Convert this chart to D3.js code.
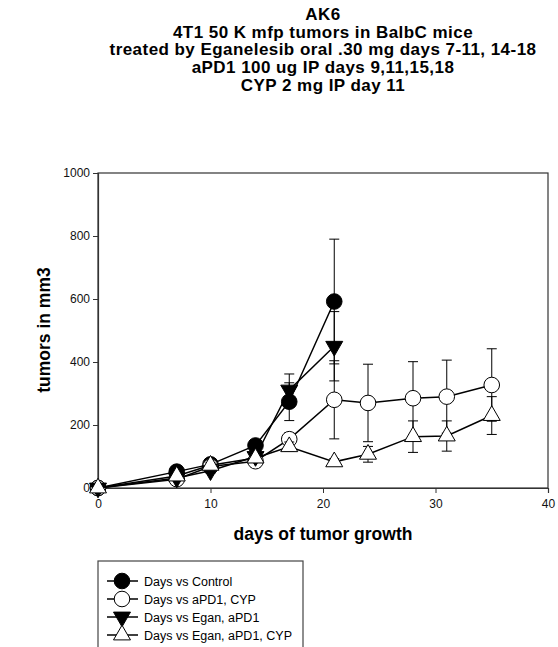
<!doctype html>
<html>
<head>
<meta charset="utf-8">
<script src="https://d3js.org/d3.v7.min.js"></script>
<style>
  body { margin: 0; background: #fff; }
  svg { display: block; font-family: "Liberation Sans", Arial, sans-serif; }
</style>
</head>
<body>
<svg width="558" height="647"></svg>
<script>
// tumour volume (mm3) by day, mean and error
var daysShort = [0, 7, 10, 14, 17, 21];
var daysLong = [0, 7, 10, 14, 17, 21, 24, 28, 31, 35];

var controlMean = [0, 52, 75, 135, 274, 592];
var controlErr = [0, 8, 10, 15, 60, 198];

var pd1CypMean = [0, 28, 68, 85, 155, 280, 270, 285, 290, 327];
var pd1CypErr = [0, 5, 8, 10, 20, 124, 123, 116, 116, 115];

var eganPd1Mean = [0, 32, 55, 100, 311, 450];
var eganPd1Err = [0, 5, 8, 10, 51, 110];

var eganPd1CypMean = [0, 38, 72, 95, 131, 83, 107, 163, 165, 230];
var eganPd1CypErr = [0, 5, 8, 10, 15, 10, 25, 50, 48, 60];

var xTicks = [0, 10, 20, 30, 40];
var yTicks = [0, 200, 400, 600, 800, 1000];

var titleLines = [
  "AK6",
  "4T1 50 K mfp tumors in BalbC mice",
  "treated by Eganelesib oral .30 mg days 7-11, 14-18",
  "aPD1 100 ug IP days 9,11,15,18",
  "CYP 2 mg IP day 11"
];

function pairUp(days, mean, err) {
  return days.map(function(d, i) { return {day: d, v: mean[i], e: err[i]}; });
}

var series = [
  {name: "Days vs Control", shape: "circle", fill: "#000", data: pairUp(daysShort, controlMean, controlErr)},
  {name: "Days vs aPD1, CYP", shape: "circle", fill: "#fff", data: pairUp(daysLong, pd1CypMean, pd1CypErr)},
  {name: "Days vs Egan, aPD1", shape: "down", fill: "#000", data: pairUp(daysShort, eganPd1Mean, eganPd1Err)},
  {name: "Days vs Egan, aPD1, CYP", shape: "up", fill: "#fff", data: pairUp(daysLong, eganPd1CypMean, eganPd1CypErr)}
];

var svg = d3.select("svg");
var plotL = 98, plotR = 548, plotT = 173, plotB = 488;

var x = d3.scaleLinear().domain([0, 40]).range([plotL, plotR]);
var y = d3.scaleLinear().domain([0, 1000]).range([plotB, plotT]);

// title
svg.append("g").selectAll("text")
  .data(titleLines).enter().append("text")
  .attr("x", 323)
  .attr("y", function(d, i) { return 20 + i * 17.7; })
  .attr("text-anchor", "middle")
  .attr("font-size", 17)
  .attr("letter-spacing", 0.45)
  .attr("font-weight", "bold")
  .text(function(d) { return d; });

// frame
svg.append("rect")
  .attr("x", plotL).attr("y", plotT)
  .attr("width", plotR - plotL).attr("height", plotB - plotT)
  .attr("fill", "none").attr("stroke", "#333").attr("stroke-width", 1.2);

var xAxis = svg.append("g")
  .attr("transform", "translate(0," + plotB + ")")
  .call(d3.axisBottom(x).tickValues(xTicks).tickSize(5).tickPadding(6));
var yAxis = svg.append("g")
  .attr("transform", "translate(" + plotL + ",0)")
  .call(d3.axisLeft(y).tickValues(yTicks).tickFormat(d3.format("d")).tickSize(5).tickPadding(3));

[xAxis, yAxis].forEach(function(a) {
  a.select(".domain").attr("stroke", "#333").attr("stroke-width", 1.2);
  a.selectAll(".tick line").attr("stroke", "#333");
  a.selectAll("text").attr("font-size", 12).attr("fill", "#111")
    .attr("font-family", "Liberation Sans, Arial, sans-serif");
});

svg.append("text")
  .attr("x", 323).attr("y", 540)
  .attr("text-anchor", "middle")
  .attr("font-size", 17.5).attr("font-weight", "bold")
  .text("days of tumor growth");

svg.append("text")
  .attr("transform", "translate(50,330) rotate(-90)")
  .attr("text-anchor", "middle")
  .attr("font-size", 17.5).attr("font-weight", "bold")
  .text("tumors in mm3");

function marker(sel, shape, fill) {
  if (shape === "circle") {
    sel.append("circle").attr("r", 7.8);
  } else {
    sel.append("path")
      .attr("d", d3.symbol().type(d3.symbolTriangle).size(125)())
      .attr("transform", shape === "down" ? "rotate(180)" : null);
  }
  sel.selectAll("circle, path")
    .attr("fill", fill).attr("stroke", "#000").attr("stroke-width", 1);
}

var line = d3.line()
  .x(function(d) { return x(d.day); })
  .y(function(d) { return y(d.v); });

series.forEach(function(s) {
  var g = svg.append("g");

  var eb = g.selectAll(".err").data(s.data.filter(function(d) { return d.e > 0; }))
    .enter().append("g").attr("stroke", "#000").attr("stroke-width", 1);
  eb.append("line")
    .attr("x1", function(d) { return x(d.day); })
    .attr("x2", function(d) { return x(d.day); })
    .attr("y1", function(d) { return y(d.v - d.e); })
    .attr("y2", function(d) { return y(d.v + d.e); });
  [-1, 1].forEach(function(sign) {
    eb.append("line")
      .attr("x1", function(d) { return x(d.day) - 5; })
      .attr("x2", function(d) { return x(d.day) + 5; })
      .attr("y1", function(d) { return y(d.v + sign * d.e); })
      .attr("y2", function(d) { return y(d.v + sign * d.e); });
  });

  g.append("path").datum(s.data)
    .attr("d", line)
    .attr("fill", "none").attr("stroke", "#000").attr("stroke-width", 1.5);

  g.selectAll(".pt").data(s.data).enter().append("g")
    .attr("transform", function(d) { return "translate(" + x(d.day) + "," + y(d.v) + ")"; })
    .each(function() { marker(d3.select(this), s.shape, s.fill); });
});

// legend
var lg = svg.append("g");
lg.append("rect")
  .attr("x", 98).attr("y", 561).attr("width", 205).attr("height", 100)
  .attr("fill", "#fff").attr("stroke", "#444").attr("stroke-width", 1.2);

var rows = lg.selectAll(".row").data(series).enter().append("g")
  .attr("transform", function(d, i) { return "translate(0," + (581 + i * 18) + ")"; });
rows.append("line")
  .attr("x1", 107).attr("x2", 138)
  .attr("stroke", "#000").attr("stroke-width", 1.5);
rows.append("g").attr("transform", "translate(122,0)")
  .each(function(s) { marker(d3.select(this), s.shape, s.fill); });
rows.append("text")
  .attr("x", 144).attr("y", 4.5)
  .attr("font-size", 12.5)
  .text(function(s) { return s.name; });
</script>
</body>
</html>
